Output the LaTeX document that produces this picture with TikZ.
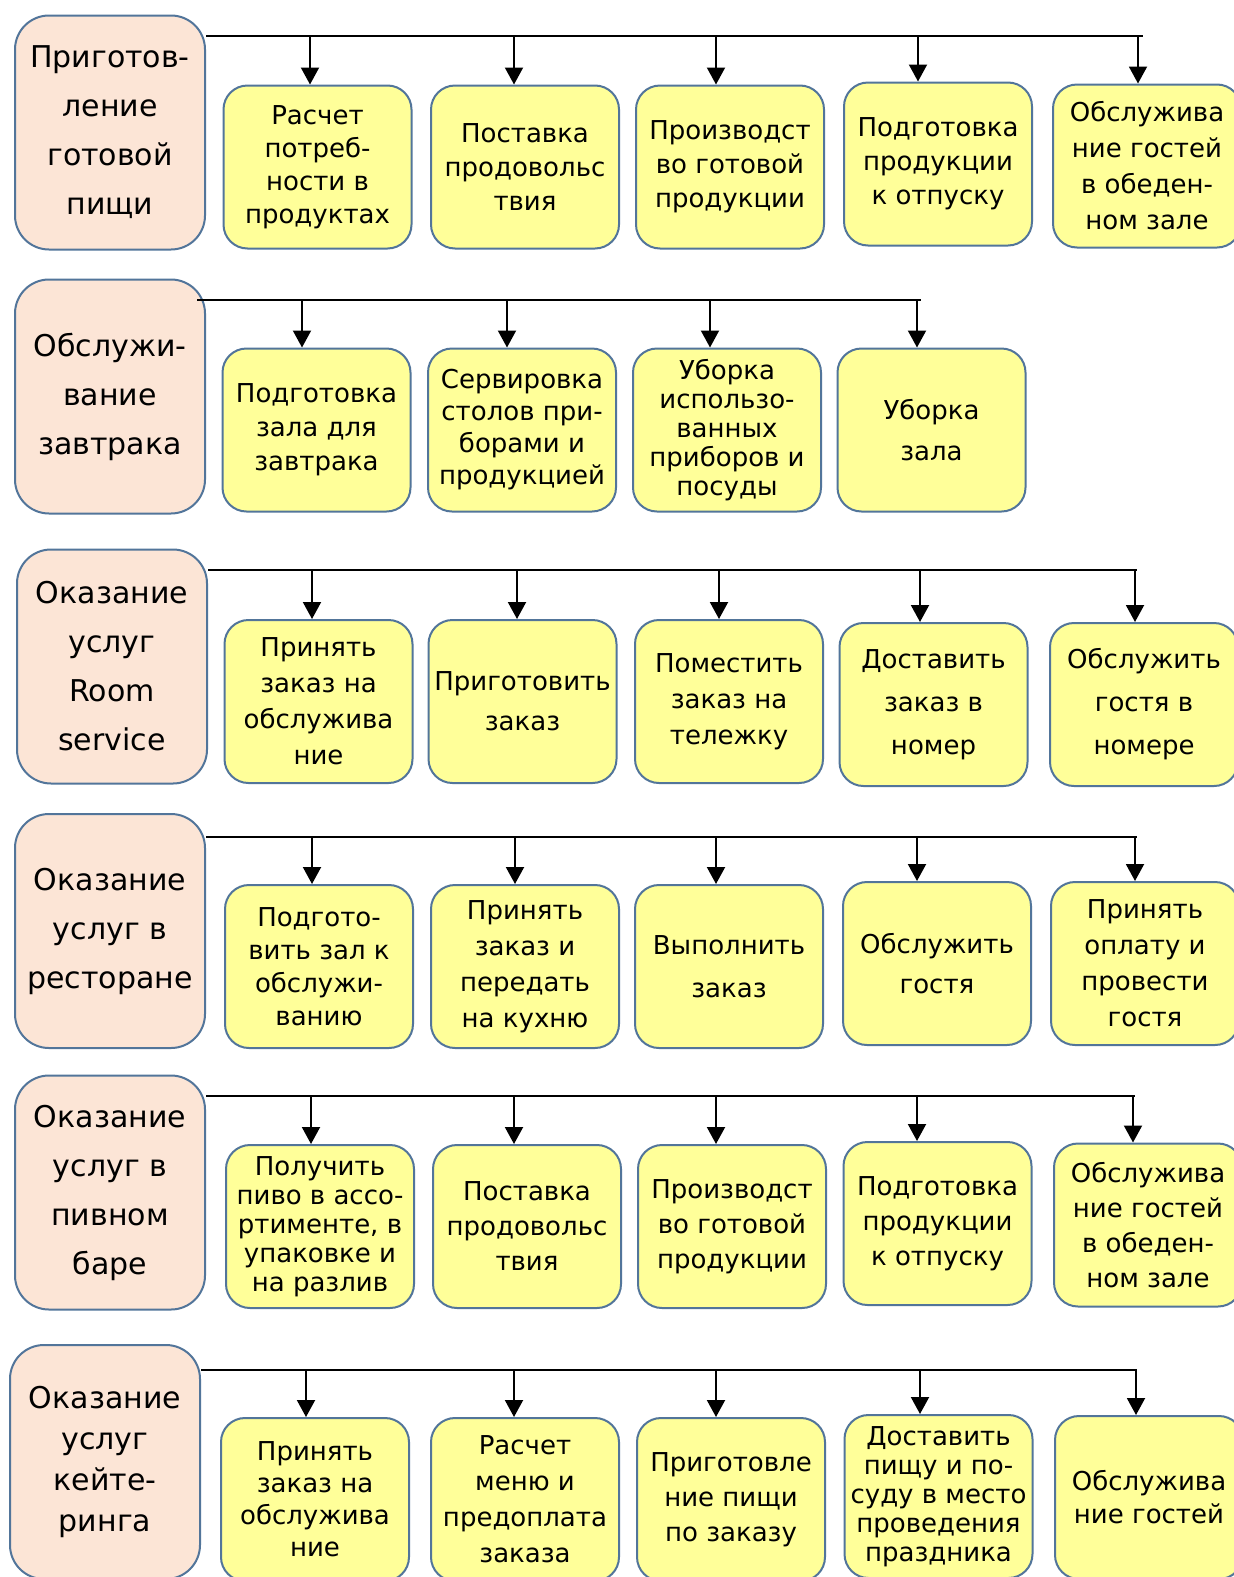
\documentclass[tikz,border=0pt]{standalone}
\usepackage{fontspec}
\setmainfont{DejaVu Sans}
\usetikzlibrary{arrows.meta}
\definecolor{boxline}{HTML}{52759A}
\definecolor{taskfill}{HTML}{FFFF99}
\definecolor{procfill}{HTML}{FCE5D6}
\begin{document}
\begin{tikzpicture}[
  x=1pt, y=-1pt,
  proc/.style={draw=boxline, fill=procfill, line width=2pt, rounded corners=34pt,
    minimum width=190pt, minimum height=234pt, align=center, inner sep=2pt,
    font=\fontsize{30}{49}\selectfont},
  task/.style={draw=boxline, fill=taskfill, line width=2pt, rounded corners=24pt,
    minimum width=188pt, minimum height=163pt, align=center, inner sep=2pt,
    font=\fontsize{26}{34}\selectfont},
  lsk/.style={font=\fontsize{26}{#1}\selectfont},
  bus/.style={line width=2pt},
  feed/.style={line width=2pt, -{Triangle[length=17pt,width=18pt]}},
]
\useasboundingbox (0,0) rectangle (1234,1577);
\fill[white] (0,0) rectangle (1234,1577);
\clip (0,0) rectangle (1234,1577);

% ---------- row 1 ----------
\node[proc] (L1) at (110,132.5) {Приготов-\\ление\\готовой\\пищи};
\node[task,lsk=33] (b11) at (317.5,167) {Расчет\\потреб-\\ности в\\продуктах};
\node[task] (b12) at (525,167) {Поставка\\продовольс\\твия};
\node[task] (b13) at (730,167) {Производст\\во готовой\\продукции};
\node[task] (b14) at (938,164) {Подготовка\\продукции\\к отпуску};
\node[task,lsk=36] (b15) at (1147,166) {Обслужива\\ние гостей\\в обеден-\\ном зале};
\coordinate (a11) at (310,36);
\coordinate (a12) at (514,36);
\coordinate (a13) at (716,36);
\coordinate (a14) at (918,36);
\coordinate (a15) at (1138,36);
\coordinate (e1) at (1143,36);
\draw[bus] (L1.east |- a11) -- (e1);
\foreach \i in {1,...,5} \draw[feed] (a1\i) -- (b1\i.north -| a1\i);

% ---------- row 2 ----------
\node[proc] (L2) at (110,396.5) {Обслужи-\\вание\\завтрака};
\node[task] (b21) at (316.5,430) {Подготовка\\зала для\\завтрака};
\node[task,lsk=32] (b22) at (522,430) {Сервировка\\столов при-\\борами и\\продукцией};
\node[task,lsk=29] (b23) at (727,430) {Уборка\\использо-\\ванных\\приборов и\\посуды};
\node[task,lsk=41] (b24) at (931.5,430) {Уборка\\зала};
\coordinate (a21) at (302,300);
\coordinate (a22) at (507,300);
\coordinate (a23) at (710,300);
\coordinate (a24) at (917,300);
\coordinate (e2) at (921,300);
\draw[bus] ([xshift=-9pt]L2.east |- a21) -- (e2);
\foreach \i in {1,...,4} \draw[feed] (a2\i) -- (b2\i.north -| a2\i);

% ---------- row 3 ----------
\node[proc] (L3) at (112,666.5) {Оказание\\услуг\\Room\\service};
\node[task,lsk=36] (b31) at (318.5,701.5) {Принять\\заказ на\\обслужива\\ние};
\node[task,lsk=40] (b32) at (522.5,701.5) {Приготовить\\заказ};
\node[task,lsk=36] (b33) at (729,701.5) {Поместить\\заказ на\\тележку};
\node[task,lsk=43] (b34) at (933.5,704.5) {Доставить\\заказ в\\номер};
\node[task,lsk=43] (b35) at (1144,704.5) {Обслужить\\гостя в\\номере};
\coordinate (a31) at (312,570);
\coordinate (a32) at (517,570);
\coordinate (a33) at (719,570);
\coordinate (a34) at (920,570);
\coordinate (a35) at (1135,570);
\coordinate (e3) at (1137,570);
\draw[bus] (L3.east |- a31) -- (e3);
\foreach \i in {1,...,5} \draw[feed] (a3\i) -- (b3\i.north -| a3\i);

% ---------- row 4 ----------
\node[proc] (L4) at (110,931) {Оказание\\услуг в\\ресторане};
\node[task,lsk=33] (b41) at (319,966.5) {Подгото-\\вить зал к\\обслужи-\\ванию};
\node[task,lsk=36] (b42) at (525,966.5) {Принять\\заказ и\\передать\\на кухню};
\node[task,lsk=43] (b43) at (729,966.5) {Выполнить\\заказ};
\node[task,lsk=40] (b44) at (937,963.5) {Обслужить\\гостя};
\node[task,lsk=36] (b45) at (1145,963.5) {Принять\\оплату и\\провести\\гостя};
\coordinate (a41) at (312,837);
\coordinate (a42) at (515,837);
\coordinate (a43) at (716,837);
\coordinate (a44) at (917,837);
\coordinate (a45) at (1135,837);
\coordinate (e4) at (1137,837);
\draw[bus] (L4.east |- a41) -- (e4);
\foreach \i in {1,...,5} \draw[feed] (a4\i) -- (b4\i.north -| a4\i);

% ---------- row 5 ----------
\node[proc] (L5) at (110,1192.5) {Оказание\\услуг в\\пивном\\баре};
\node[task,lsk=29] (b51) at (320,1226.5) {Получить\\пиво в ассо-\\ртименте, в\\упаковке и\\на разлив};
\node[task,lsk=35] (b52) at (527,1226.5) {Поставка\\продовольс\\твия};
\node[task,lsk=35] (b53) at (732,1226.5) {Производст\\во готовой\\продукции};
\node[task,lsk=35] (b54) at (937.5,1223.5) {Подготовка\\продукции\\к отпуску};
\node[task,lsk=35] (b55) at (1148,1225) {Обслужива\\ние гостей\\в обеден-\\ном зале};
\coordinate (a51) at (311,1096);
\coordinate (a52) at (514,1096);
\coordinate (a53) at (716,1096);
\coordinate (a54) at (917,1096);
\coordinate (a55) at (1133,1096);
\coordinate (e5) at (1135,1096);
\draw[bus] (L5.east |- a51) -- (e5);
\foreach \i in {1,...,5} \draw[feed] (a5\i) -- (b5\i.north -| a5\i);

% ---------- row 6 ----------
\node[proc,font=\fontsize{30}{41}\selectfont] (L6) at (105,1462) {Оказание\\услуг\\кейте-\\ринга};
\node[task,lsk=32] (b61) at (315,1499.5) {Принять\\заказ на\\обслужива\\ние};
\node[task,lsk=36] (b62) at (525,1499.5) {Расчет\\меню и\\предоплата\\заказа};
\node[task,lsk=35] (b63) at (731,1499.5) {Приготовле\\ние пищи\\по заказу};
\node[task,lsk=29] (b64) at (938.5,1496.5) {Доставить\\пищу и по-\\суду в место\\проведения\\праздника};
\node[task,lsk=33] (b65) at (1149,1497.5) {Обслужива\\ние гостей};
\coordinate (a61) at (306,1370);
\coordinate (a62) at (514,1370);
\coordinate (a63) at (716,1370);
\coordinate (a64) at (920,1370);
\coordinate (a65) at (1136,1370);
\coordinate (e6) at (1137,1370);
\draw[bus] (L6.east |- a61) -- (e6);
\foreach \i in {1,...,5} \draw[feed] (a6\i) -- (b6\i.north -| a6\i);
\end{tikzpicture}
\end{document}
